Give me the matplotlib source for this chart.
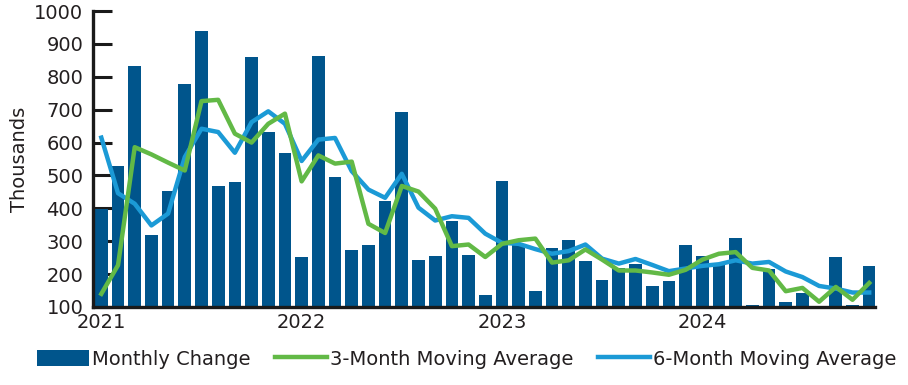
import matplotlib
matplotlib.use('Agg')
import matplotlib.pyplot as plt
import numpy as np

plt.rcParams['font.family'] = ['DejaVu Sans']

# monthly data, Jan 2021 - Nov 2024 (thousands)
monthly_change = [397, 529, 832, 318, 452, 778, 939, 468, 480, 860, 631, 568,
                  252, 862, 494, 273, 288, 422, 692, 243, 255, 361, 258, 136,
                  482, 290, 148, 278, 303, 239, 182, 218, 232, 165, 179, 288,
                  255, 235, 311, 106, 216, 116, 143, 103, 253, 105, 226]
avg_3m = [140, 227, 586, 564, 539, 515, 726, 730, 627, 600, 657, 688,
          482, 561, 536, 542, 353, 325, 468, 451, 399, 285, 290, 252,
          292, 303, 308, 235, 242, 275, 244, 211, 211, 205, 198, 213,
          244, 262, 267, 219, 211, 148, 158, 116, 161, 122, 173]
avg_6m = [615, 446, 414, 348, 384, 556, 642, 632, 569, 662, 695, 657,
          544, 609, 614, 513, 457, 432, 505, 402, 363, 376, 371, 323,
          295, 292, 276, 262, 270, 290, 247, 232, 246, 228, 209, 217,
          225, 230, 242, 232, 237, 208, 191, 164, 156, 144, 144]
year_labels = ['2021', '2022', '2023', '2024']
year_pos = [0, 12, 24, 36]

bar_color = '#00558C'
green = '#62B946'
blue = '#1B9AD6'
text_color = '#231f20'

x = np.arange(len(monthly_change))

fig = plt.figure(figsize=(9.08, 3.85), dpi=100)
ax = fig.add_axes([0.1024, 0.2026, 0.8613, 0.7688])

bars = ax.bar(x, np.array(monthly_change) - 100, bottom=100, width=0.76,
              color=bar_color, zorder=2, label='Monthly Change')
l6, = ax.plot(x, avg_6m, color=blue, lw=3.2, zorder=3, label='6-Month Moving Average')
l3, = ax.plot(x, avg_3m, color=green, lw=3.2, zorder=4, label='3-Month Moving Average')

ax.set_xlim(-0.5, 46.35)
ax.set_ylim(100, 1000)
ax.set_yticks(range(100, 1001, 100))
ax.set_xticks(year_pos)
ax.set_xticklabels(year_labels)
ax.tick_params(axis='y', direction='in', length=14, width=2.2, labelsize=14, pad=7,
               color='#1a1a1a', labelcolor=text_color)
ax.tick_params(axis='x', length=0, labelsize=14, pad=4, labelcolor=text_color)
ax.set_ylabel('Thousands', fontsize=14, labelpad=4, color=text_color)

for s in ['top', 'right']:
    ax.spines[s].set_visible(False)
for s in ['left', 'bottom']:
    ax.spines[s].set_linewidth(2.4)
    ax.spines[s].set_color('#1a1a1a')
    ax.spines[s].set_zorder(5)

leg = fig.legend(handles=[bars, l3, l6], loc='center', bbox_to_anchor=(0.514, 0.067),
                 ncol=3, frameon=False, fontsize=14, handlelength=2.7, handleheight=0.95,
                 handletextpad=0.15, columnspacing=1.25, borderpad=0, borderaxespad=0)
for t in leg.get_texts():
    t.set_color(text_color)

plt.savefig('out.png', dpi=100)
